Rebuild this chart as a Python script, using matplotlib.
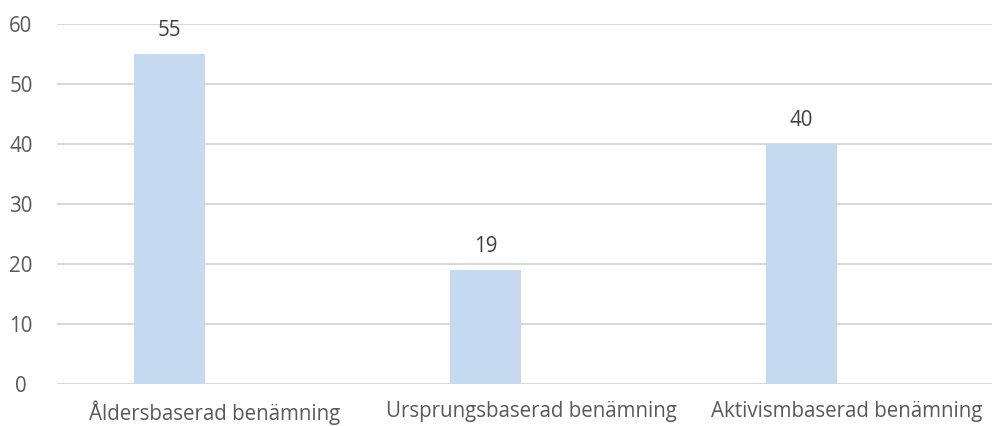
import matplotlib
matplotlib.use("Agg")
import matplotlib.pyplot as plt

categories = ["Åldersbaserad benämning", "Ursprungsbaserad benämning", "Aktivismbaserad benämning"]
values = [55, 19, 40]
yticks = [0, 10, 20, 30, 40, 50, 60]

FONT = "Open Sans"
W, H = 992, 426
fig = plt.figure(figsize=(W/100, H/100), dpi=100)
left, right = 57, 992
bottom, top = 384, 24
ax = fig.add_axes([left/W, 1 - bottom/H, (right-left)/W, (bottom-top)/H])

slot = 316.0
xmax = (right - left)/slot - 0.5
offset = -45.5/slot
width = 71/slot
xs = [i + offset for i in range(len(categories))]
bars = ax.bar(xs, values, width=width, color="#C5D9F1", zorder=2)
for x, v in zip(xs, values):
    ax.annotate(str(v), (x, v), xytext=(0, 17), textcoords="offset points",
                ha="center", va="center", fontsize=14.8, color="#404040",
                family=FONT)

ax.set_xlim(-0.5, xmax)
ax.set_ylim(0, 60)
ax.set_yticks(yticks)
ax.set_xticks(range(len(categories)))
ax.set_xticklabels(categories)
ax.yaxis.grid(True, color="#D9D9D9", linewidth=1.5, zorder=0)
ax.set_axisbelow(True)
for s in ax.spines.values():
    s.set_visible(False)
ax.tick_params(axis="both", length=0, colors="#595959", labelsize=14.8)
ax.tick_params(axis="y", pad=26)
ax.tick_params(axis="x", pad=12)
for lab in ax.get_xticklabels() + ax.get_yticklabels():
    lab.set_family(FONT)
for lab in ax.get_yticklabels():
    lab.set_ha("center")
fig.savefig("out.png", dpi=100)
